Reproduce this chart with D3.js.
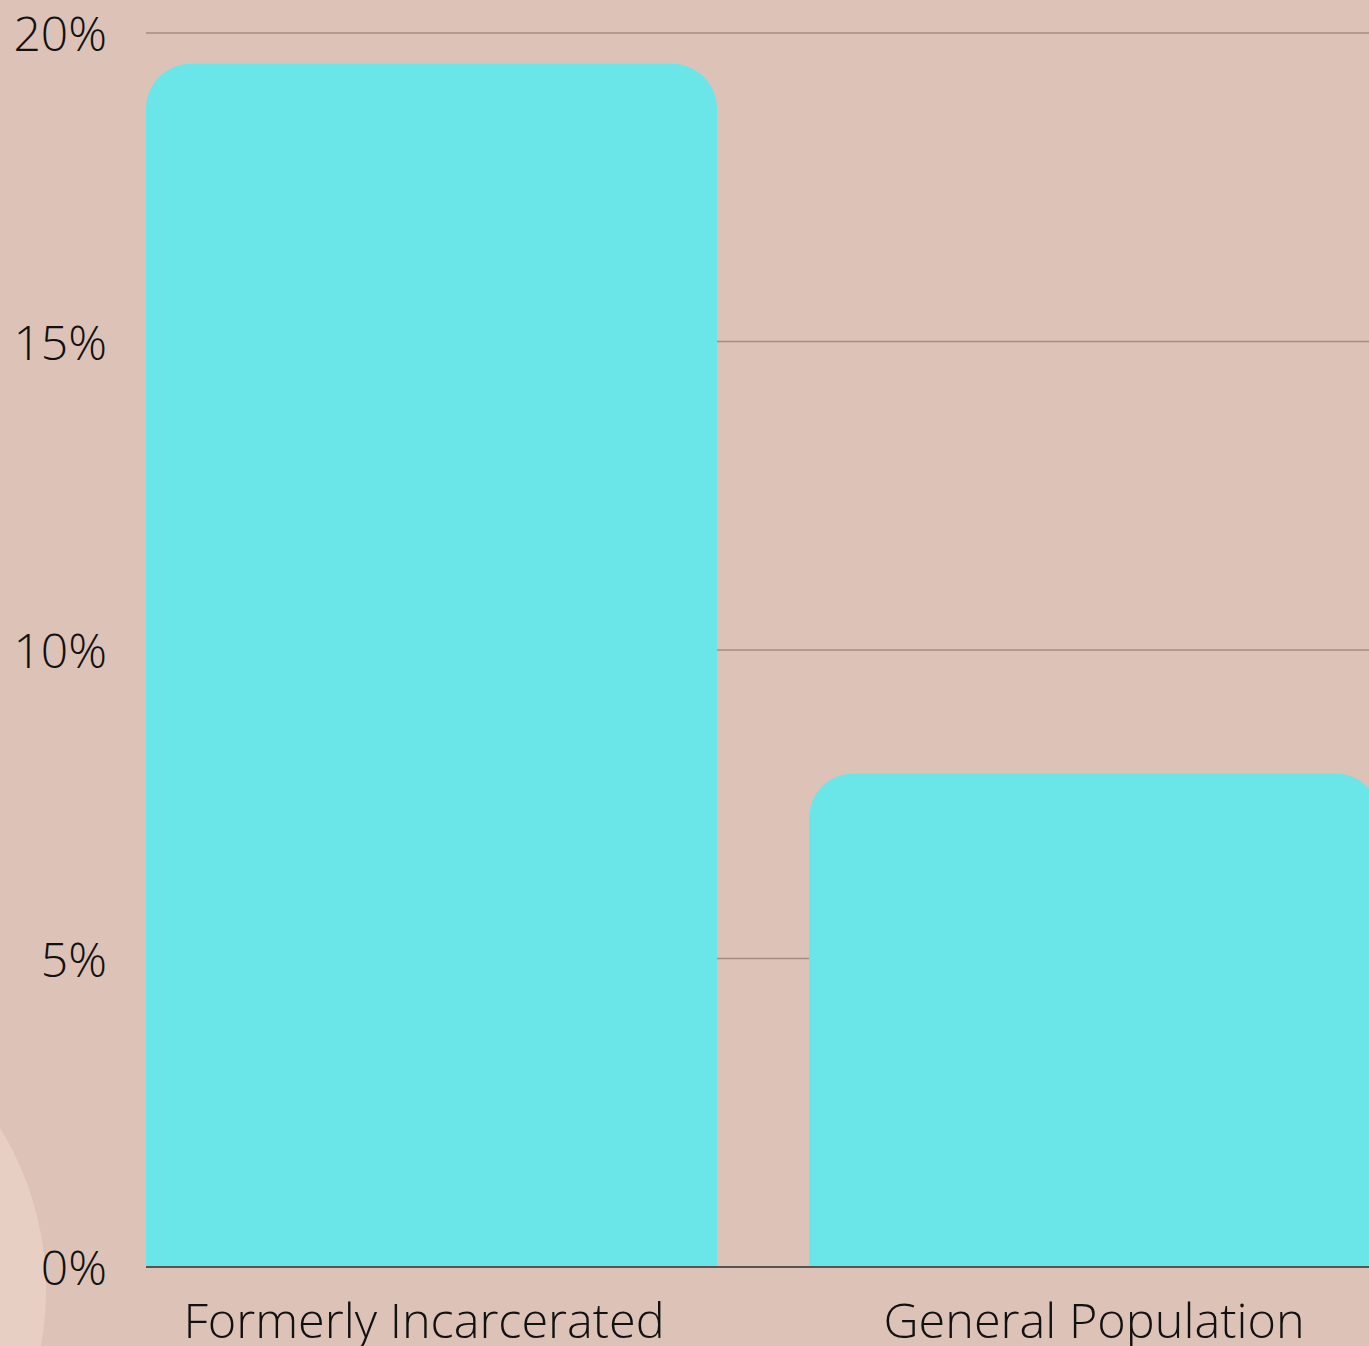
<!DOCTYPE html>
<html>
<head>
<meta charset="utf-8">
<script src="https://cdn.jsdelivr.net/npm/d3@7"></script>
<style>
  body { margin: 0; background: #dcc2b7; overflow: hidden; }
  text { font-family: "Open Sans", sans-serif; font-weight: 300; fill: #111; }
</style>
</head>
<body>
<script>
const categories = ["Formerly Incarcerated", "General Population"];
const rates = [19.5, 8.0];
const tickValues = [0, 5, 10, 15, 20];

const W = 1369, H = 1346;
const plotLeft = 146, plotTop = 33, plotBottom = 1267;
const step = 663, gap = 92;

const svg = d3.select('body')
    .append('svg')
    .attr('width', W)
    .attr('height', H)

// background blob bottom-left
svg.append('ellipse')
    .attr('cx', -245)
    .attr('cy', 1290)
    .attr('rx', 291)
    .attr('ry', 300)
    .attr('fill', '#e8cfc4')

const x = d3.scaleBand()
    .domain(categories)
    .range([plotLeft, plotLeft + step * 2 - gap])
    .paddingInner(gap / step)
    .paddingOuter(0)

const y = d3.scaleLinear()
    .domain([0, 20])
    .range([plotBottom, plotTop])

// gridlines
svg.append('g')
    .selectAll('line')
    .data(tickValues.filter(d => d > 0))
    .join('line')
    .attr('x1', plotLeft)
    .attr('x2', W)
    .attr('y1', d => y(d))
    .attr('y2', d => y(d))
    .attr('stroke', '#a38c84')
    .attr('stroke-width', 1.5)

// baseline
svg.append('line')
    .attr('x1', plotLeft)
    .attr('x2', W)
    .attr('y1', y(0))
    .attr('y2', y(0))
    .attr('stroke', '#5a5250')
    .attr('stroke-width', 2)

const r = 45;
const barPath = (d, i) => {
    const x0 = x(categories[i]), x1 = x0 + x.bandwidth();
    const y0 = y(d), y1 = y(0) - 1;
    return `M${x0},${y1} L${x0},${y0 + r} A${r},${r} 0 0 1 ${x0 + r},${y0} L${x1 - r},${y0} A${r},${r} 0 0 1 ${x1},${y0 + r} L${x1},${y1} Z`;
}

svg.append('g')
    .selectAll('path')
    .data(rates)
    .join('path')
    .attr('d', barPath)
    .attr('fill', '#6ae5e8')

// y tick labels
svg.append('g')
    .selectAll('text')
    .data(tickValues)
    .join('text')
    .attr('x', 107)
    .attr('y', d => y(d) + 18)
    .attr('text-anchor', 'end')
    .attr('font-size', 48)
    .text(d => d + '%')

// category labels
svg.append('g')
    .selectAll('text')
    .data(categories)
    .join('text')
    .attr('x', (d, i) => i === 0 ? 424 : 1094)
    .attr('y', 1338)
    .attr('text-anchor', 'middle')
    .attr('font-size', 48.6)
    .text(d => d)
</script>
</body>
</html>
